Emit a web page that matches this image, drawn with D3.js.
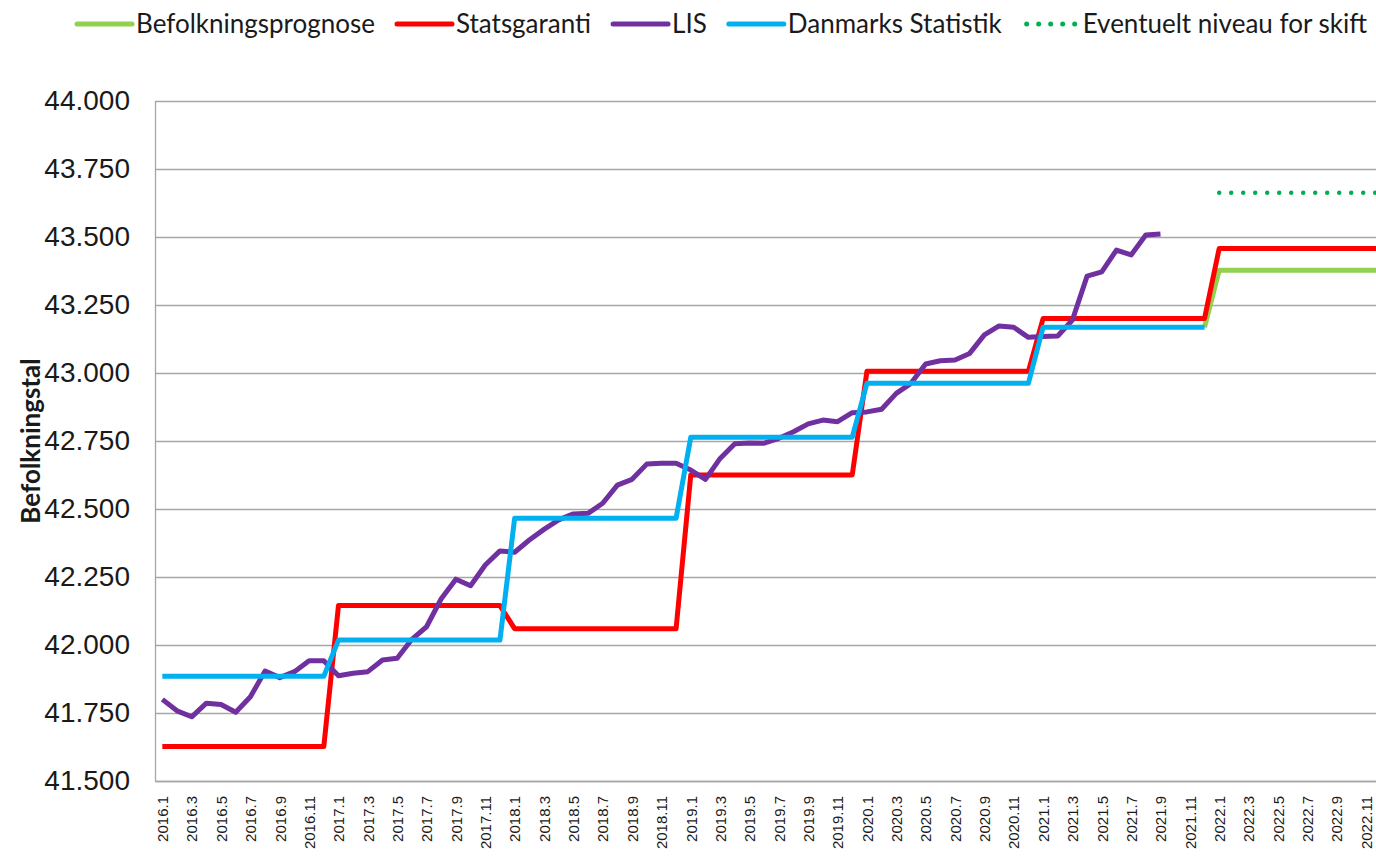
<!DOCTYPE html>
<html>
<head>
<meta charset="utf-8">
<script src="https://cdn.jsdelivr.net/npm/d3@7"></script>
<style>
  html, body { margin: 0; padding: 0; background: #fff; overflow: hidden; }
  svg { display: block; font-family: Lato, "Open Sans", sans-serif; }
  .grid line { stroke: #a6a6a6; stroke-width: 1.3; }
  .axis .domain { stroke: #a6a6a6; stroke-width: 1.3; }
  .y-axis text { font-size: 28px; fill: #1a1a1a; }
  .x-axis text { font-family: "Liberation Sans", Arial, sans-serif; font-size: 15px; fill: #1a1a1a; }
  .legend text { font-size: 26px; fill: #1a1a1a; }
  .axis-title { font-size: 26px; font-weight: bold; fill: #1a1a1a; }
</style>
</head>
<body>
<svg id="chart"></svg>
<script>
// categories: month labels 2016.1 .. 2022.12
const years = [2016, 2017, 2018, 2019, 2020, 2021, 2022];
const months = [1, 2, 3, 4, 5, 6, 7, 8, 9, 10, 11, 12];
const categories = years.flatMap(y => months.map(m => `${y}.${m}`));

const yTicks = [41500, 41750, 42000, 42250, 42500, 42750, 43000, 43250, 43500, 43750, 44000];

// Befolkningsprognose (only drawn from 2021.12)
const prognose = [
  null, null, null, null, null, null, null, null, null, null, null, null,
  null, null, null, null, null, null, null, null, null, null, null, null,
  null, null, null, null, null, null, null, null, null, null, null, null,
  null, null, null, null, null, null, null, null, null, null, null, null,
  null, null, null, null, null, null, null, null, null, null, null, null,
  null, null, null, null, null, null, null, null, null, null, null, 43168,
  43378, 43378, 43378, 43378, 43378, 43378, 43378, 43378, 43378, 43378, 43378, 43378
];

const statsgaranti = [
  41627, 41627, 41627, 41627, 41627, 41627, 41627, 41627, 41627, 41627, 41627, 41627,
  42145, 42145, 42145, 42145, 42145, 42145, 42145, 42145, 42145, 42145, 42145, 42145,
  42060, 42060, 42060, 42060, 42060, 42060, 42060, 42060, 42060, 42060, 42060, 42060,
  42625, 42625, 42625, 42625, 42625, 42625, 42625, 42625, 42625, 42625, 42625, 42625,
  43006, 43006, 43006, 43006, 43006, 43006, 43006, 43006, 43006, 43006, 43006, 43006,
  43200, 43200, 43200, 43200, 43200, 43200, 43200, 43200, 43200, 43200, 43200, 43200,
  43458, 43458, 43458, 43458, 43458, 43458, 43458, 43458, 43458, 43458, 43458, 43458
];

// LIS, 2016.1 .. 2021.9
const lis = [
  41800, 41758, 41736, 41786, 41781, 41753, 41810, 41904, 41880, 41902, 41942, 41942,
  41887, 41896, 41902, 41945, 41951, 42021, 42067, 42170, 42242, 42218, 42294, 42346,
  42341, 42386, 42425, 42460, 42482, 42484, 42521, 42588, 42609, 42665, 42668, 42668,
  42643, 42609, 42686, 42740, 42743, 42742, 42760, 42784, 42813, 42827, 42821, 42854,
  42857, 42867, 42925, 42962, 43033, 43045, 43048, 43072, 43140, 43173, 43168, 43131,
  43134, 43136, 43195, 43356, 43372, 43452, 43434, 43507, 43511
];

// Danmarks Statistik, 2016.1 .. 2021.12
const danmarksStatistik = [
  41885, 41885, 41885, 41885, 41885, 41885, 41885, 41885, 41885, 41885, 41885, 41885,
  42018, 42018, 42018, 42018, 42018, 42018, 42018, 42018, 42018, 42018, 42018, 42018,
  42466, 42466, 42466, 42466, 42466, 42466, 42466, 42466, 42466, 42466, 42466, 42466,
  42764, 42764, 42764, 42764, 42764, 42764, 42764, 42764, 42764, 42764, 42764, 42764,
  42962, 42962, 42962, 42962, 42962, 42962, 42962, 42962, 42962, 42962, 42962, 42962,
  43168, 43168, 43168, 43168, 43168, 43168, 43168, 43168, 43168, 43168, 43168, 43168
];

// Eventuelt niveau for skift (2022 only)
const niveauSkift = [
  43663, 43663, 43663, 43663, 43663, 43663, 43663, 43663, 43663, 43663, 43663, 43663
];

const series = [
  { name: "Befolkningsprognose", values: prognose, color: "#92d050", width: 5 },
  { name: "Statsgaranti", values: statsgaranti, color: "#ff0000", width: 5 },
  { name: "LIS", values: lis, color: "#7030a0", width: 5 },
  { name: "Danmarks Statistik", values: danmarksStatistik, color: "#00b0f0", width: 5 },
  { name: "Eventuelt niveau for skift", values: niveauSkift, color: "#00b050", width: 4.5, dotted: true, offset: 72 }
];

const config = {
  width: 1376,
  height: 860,
  margin: { top: 101, left: 155, bottom: 79 },
  plotRight: 1388
};

const da = d3.formatLocale({ decimal: ",", thousands: ".", grouping: [3], currency: ["", " kr."] });
const fmt = da.format(",.0f");

const svg = d3.select("#chart")
  .attr("width", config.width)
  .attr("height", config.height);

const plotBottom = config.height - config.margin.bottom;
const plotWidth = config.plotRight - config.margin.left;

const x = d3.scalePoint()
  .domain(categories)
  .range([config.margin.left, config.plotRight])
  .padding(0.5);

const y = d3.scaleLinear()
  .domain([41500, 44000])
  .range([plotBottom, config.margin.top]);

// gridlines + y labels
const yAxis = d3.axisLeft(y)
  .tickValues(yTicks)
  .tickSize(-plotWidth)
  .tickSizeOuter(0)
  .tickPadding(25)
  .tickFormat(fmt);

svg.append("g")
  .attr("class", "axis y-axis grid")
  .attr("transform", `translate(${config.margin.left},0)`)
  .call(yAxis);

// x axis with every other month labelled
const xAxis = d3.axisBottom(x)
  .tickValues(categories.filter((d, i) => i % 2 === 0))
  .tickSize(0)
  .tickSizeOuter(0)
  .tickPadding(0);

const xAxisG = svg.append("g")
  .attr("class", "axis x-axis")
  .attr("transform", `translate(0,${plotBottom})`)
  .call(xAxis);

xAxisG.selectAll("text")
  .attr("transform", "rotate(-90)")
  .attr("x", -15)
  .attr("y", 0)
  .attr("dy", "0.35em")
  .style("text-anchor", "end");

// axis title
svg.append("text")
  .attr("class", "axis-title")
  .attr("transform", `translate(40,${(config.margin.top + plotBottom) / 2}) rotate(-90)`)
  .attr("text-anchor", "middle")
  .text("Befolkningstal");

// series lines
const line = (offset) => d3.line()
  .defined(d => d != null)
  .x((d, i) => x(categories[i + offset]))
  .y(d => y(d));

svg.append("g")
  .selectAll("path")
  .data(series)
  .join("path")
  .attr("fill", "none")
  .attr("stroke", d => d.color)
  .attr("stroke-width", d => d.width)
  .attr("stroke-linejoin", "round")
  .attr("stroke-linecap", d => d.dotted ? "round" : "butt")
  .attr("stroke-dasharray", d => d.dotted ? "0,12" : null)
  .attr("d", d => line(d.offset || 0)(d.values));

// legend
const legend = svg.append("g").attr("class", "legend");
const items = legend.selectAll("g")
  .data(series)
  .join("g");

items.append("line")
  .attr("x1", 0).attr("x2", 55)
  .attr("y1", 24).attr("y2", 24)
  .attr("stroke", d => d.color)
  .attr("stroke-width", 5)
  .attr("stroke-linecap", "round")
  .attr("stroke-dasharray", d => d.dotted ? "0,12" : null)
  .attr("transform", d => d.dotted ? "translate(3,0)" : null);

items.append("text")
  .attr("x", 59)
  .attr("y", 33)
  .text(d => d.name);

let cursor = 0;
items.each(function () {
  const w = d3.select(this).select("text").node().getComputedTextLength();
  d3.select(this).attr("transform", `translate(${cursor},0)`);
  cursor += 59 + w + 22;
});
const legendWidth = cursor - 22;
legend.attr("transform", `translate(${722 - legendWidth / 2},0)`);
</script>
</body>
</html>
